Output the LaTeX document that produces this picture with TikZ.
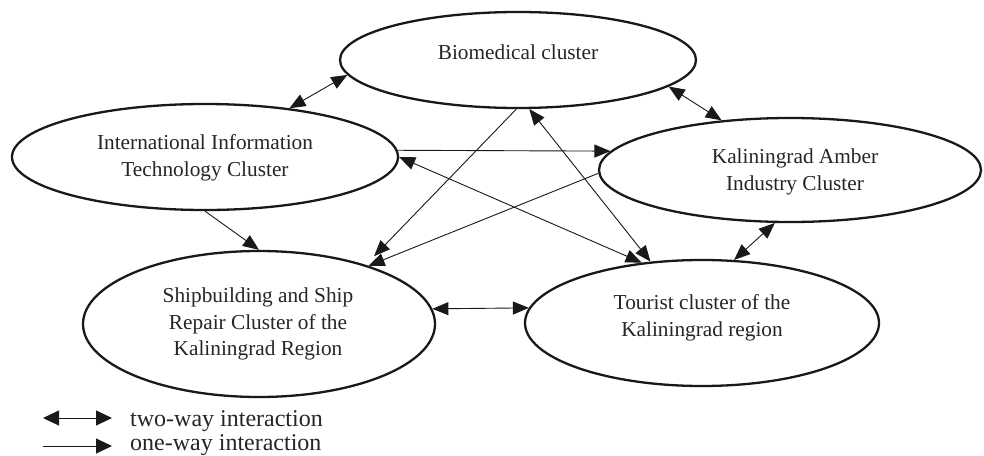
\documentclass[tikz,border=0pt]{standalone}
\usepackage{fontspec}
\setmainfont{Liberation Serif}
\usetikzlibrary{shapes.geometric,arrows.meta}
\begin{document}
\begin{tikzpicture}[x=1pt,y=-1pt,
  cluster/.style={draw=black!90, line width=2.3pt, ellipse, inner sep=0pt},
  lbl/.style={align=center, font=\fontsize{21.3}{26.7}\selectfont, text=black!85, inner sep=0pt},
  leg/.style={font=\fontsize{24}{28}\selectfont, text=black!85, inner sep=0pt},
  conn/.style={line width=0.9pt, draw=black!90},
  onehead/.style={conn, -{Triangle[length=16pt,width=13pt]}},
  twohead/.style={conn, {Triangle[length=16pt,width=13pt]}-{Triangle[length=16pt,width=13pt]}},
  legone/.style={conn, -{Triangle[length=16pt,width=15pt]}},
  legtwo/.style={conn, {Triangle[length=16pt,width=15pt]}-{Triangle[length=16pt,width=15pt]}},
]
\clip (0,0) rectangle (984,455);
\fill[white] (0,0) rectangle (984,455);

% clusters
\node[cluster, minimum width=356pt, minimum height=96pt]  (bio)     at (518,60)  {};
\node[cluster, minimum width=386pt, minimum height=106pt] (it)      at (205,157) {};
\node[cluster, minimum width=382pt, minimum height=104pt] (amber)   at (790,170) {};
\node[cluster, minimum width=352pt, minimum height=146pt] (ship)    at (259,324) {};
\node[cluster, minimum width=354pt, minimum height=126pt] (tourist) at (702,323) {};

% texts
\node[lbl] (biot)  at (518,52)  {Biomedical cluster};
\node[lbl] (itt)   at (205,158) {International Information\\Technology Cluster};
\node[lbl] (ambt)  at (795,172) {Kaliningrad Amber\\Industry Cluster};
\node[lbl] (shipt) at (258,324) {Shipbuilding and Ship\\Repair Cluster of the\\Kaliningrad Region};
\node[lbl] (tourt) at (702,318) {Tourist cluster of the\\Kaliningrad region};

% connectors
\draw[twohead] (bio.185) -- (it.30);
\draw[twohead] (bio.350) -- (amber.144);
\draw[onehead] (it.2) -- (amber.174);
\draw[twohead] (it.0) -- (tourist.135);
\draw[twohead] (bio.283) -- (tourist.130);
\draw[onehead, shorten >=12pt] (bio.268) -- (ship.29);
\draw[onehead] (amber.181) -- (ship.28);
\draw[onehead] (it.270) -- (ship.90);
\draw[twohead] (ship.5) -- (tourist.175);
\draw[twohead] (amber.254) -- (tourist.63);

% legend
\coordinate (tw1) at (43,418);
\coordinate (tw2) at (112,418);
\draw[legtwo] (tw1) -- (tw2);
\node[leg, anchor=base west] (twt) at (130,426) {two-way interaction};
\coordinate (ow1) at (43,446);
\coordinate (ow2) at (112,446);
\draw[legone] (ow1) -- (ow2);
\node[leg, anchor=base west] (owt) at (130,450) {one-way interaction};
\end{tikzpicture}
\end{document}
